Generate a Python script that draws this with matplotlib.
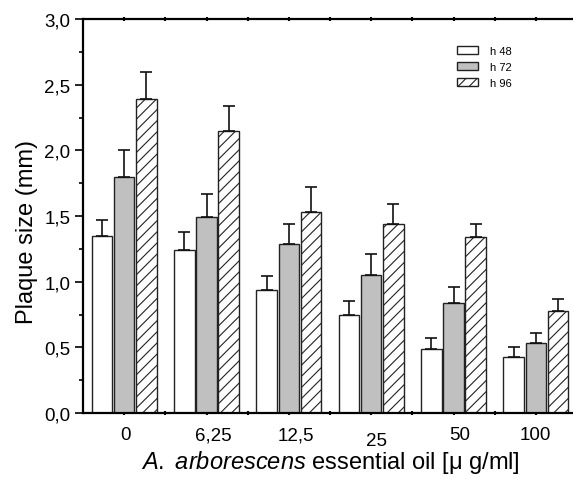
import matplotlib
matplotlib.use("Agg")
import matplotlib.pyplot as plt
import matplotlib.ticker as ticker
import matplotlib.transforms as mtransforms
import numpy as np

plt.rcParams["font.family"] = ["Liberation Sans", "DejaVu Sans"]
plt.rcParams["mathtext.fontset"] = "custom"
plt.rcParams["mathtext.it"] = "Liberation Sans:italic"
plt.rcParams["mathtext.rm"] = "Liberation Sans"
plt.rcParams["hatch.linewidth"] = 0.8

# data
doses = ["0", "6,25", "12,5", "25", "50", "100"]
series = ["h 48", "h 72", "h 96"]
h48 = [1.35, 1.24, 0.94, 0.75, 0.49, 0.43]
h72 = [1.80, 1.49, 1.29, 1.05, 0.84, 0.53]
h96 = [2.39, 2.15, 1.53, 1.44, 1.34, 0.78]
h48_err = [0.12, 0.14, 0.10, 0.10, 0.08, 0.07]
h72_err = [0.20, 0.18, 0.15, 0.16, 0.12, 0.08]
h96_err = [0.21, 0.19, 0.19, 0.15, 0.10, 0.09]

# style of each series
fills = ["white", "#c0c0c0", "white"]
hatches = [None, None, "///"]
offsets = [-0.27, 0.0, 0.27]
# small shifts (px) of the dose labels, as in the original
label_dx = [1, 7, 7, 5, 6, -1]
label_dy = [0, 0, 0, -6, 0, 0]

fig = plt.figure(figsize=(5.73, 4.81), dpi=100)
ax = fig.add_axes([83 / 573, 67 / 481, 494 / 573, 394 / 481])

x = np.arange(len(doses))
for vals, errs, fc, hat, off, name in zip(
    [h48, h72, h96], [h48_err, h72_err, h96_err], fills, hatches, offsets, series
):
    ax.bar(x + off, vals, width=0.25, color=fc, edgecolor="#222222",
           linewidth=1.0, hatch=hat, label=name, zorder=2)
    ax.errorbar(x + off, vals, yerr=[np.zeros(len(errs)), errs], fmt="none",
                ecolor="#111111", elinewidth=1.2, capsize=4.3, capthick=1.2,
                zorder=3)

ax.set_xlim(-0.5, 5.5)
ax.set_ylim(0, 3.0)

ax.yaxis.set_major_locator(ticker.MultipleLocator(0.5))
ax.yaxis.set_minor_locator(ticker.MultipleLocator(0.25))
ax.yaxis.set_major_formatter(
    ticker.FuncFormatter(lambda v, p: f"{v:.1f}".replace(".", ",")))
ax.tick_params(axis="y", which="major", direction="out", length=6,
               width=1.2, labelsize=13.5, pad=3)
ax.tick_params(axis="y", which="minor", direction="out", length=3.2,
               width=1.2)

ax.set_xticks(x)
ax.set_xticklabels(doses)
ax.set_xticks(x[:-1] + 0.5, minor=True)
ax.tick_params(axis="x", which="both", direction="inout", length=3,
               width=1.5, top=True, labelsize=13.5, pad=8)

for lab, dx, dy in zip(ax.get_xticklabels(), label_dx, label_dy):
    lab.set_transform(lab.get_transform()
                      + mtransforms.ScaledTranslation(dx / 100, dy / 100,
                                                      fig.dpi_scale_trans))

for side in ["left", "bottom", "top"]:
    ax.spines[side].set_linewidth(1.6)
ax.spines["right"].set_visible(False)

ax.set_ylabel("Plaque size (mm)", fontsize=17)
ax.yaxis.set_label_coords(-0.092, 0.462)
ax.set_xlabel(r"$A.$ $arborescens$ essential oil [μ g/ml]", fontsize=17)
ax.xaxis.set_label_coords(0.5, -0.088)

ax.legend(loc="upper left", bbox_to_anchor=(457 / 573, 1 - 47 / 481),
          bbox_transform=fig.transFigure, frameon=False, fontsize=8,
          handlelength=1.9, handleheight=0.7, handletextpad=1.1,
          labelspacing=0.55, borderpad=0, borderaxespad=0)

fig.savefig("out.png", dpi=100)
